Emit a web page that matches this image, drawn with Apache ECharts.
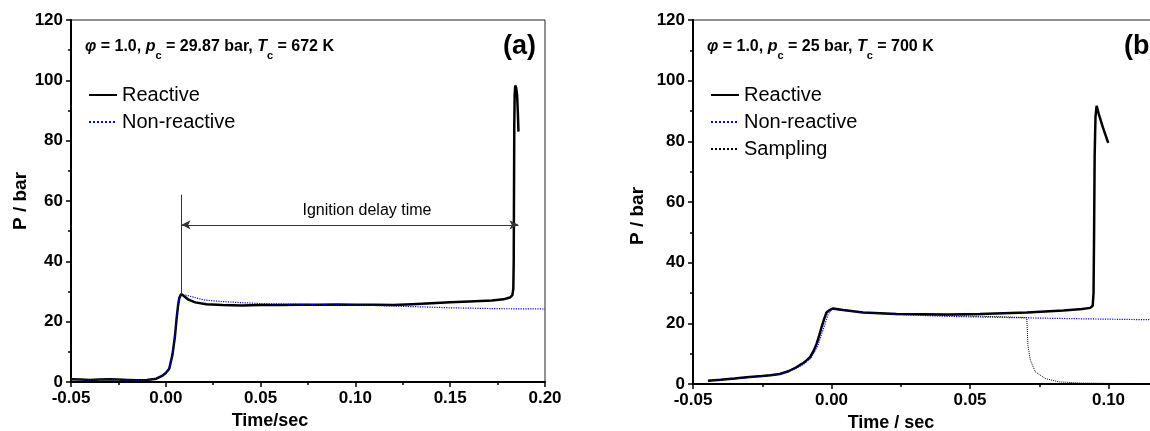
<!DOCTYPE html>
<html>
<head>
<meta charset="utf-8">
<script src="https://cdn.jsdelivr.net/npm/echarts@6/dist/echarts.min.js"></script>
<style>
  html, body { margin: 0; padding: 0; background: #fff; }
  #chart { width: 1150px; height: 431px; }
</style>
</head>
<body>
<div id="chart"></div>
<script>
// panel (a): phi = 1.0, pc = 29.87 bar, Tc = 672 K
var timeA = [-0.05, -0.045, -0.04, -0.035, -0.03, -0.025, -0.02, -0.015, -0.01, -0.005, -0.002, 0.0, 0.0018, 0.0035, 0.0048, 0.0058, 0.0065, 0.0071, 0.0081, 0.0095, 0.012, 0.0155, 0.0214, 0.03, 0.04, 0.05, 0.06, 0.07, 0.08, 0.09, 0.1, 0.11, 0.12, 0.13, 0.14, 0.15, 0.16, 0.172, 0.178, 0.1815, 0.1828, 0.1833, 0.1835, 0.1836, 0.1837, 0.1838, 0.184, 0.1843, 0.1848, 0.1853, 0.1857, 0.186]
var reactiveA = [0.9, 0.8, 0.7, 0.8, 0.9, 0.8, 0.7, 0.6, 0.7, 1.1, 2.0, 3.0, 4.4, 9.0, 15.0, 21.7, 25.5, 27.8, 29.2, 28.5, 27.3, 26.4, 25.8, 25.5, 25.4, 25.5, 25.5, 25.6, 25.6, 25.7, 25.6, 25.6, 25.5, 25.8, 26.1, 26.4, 26.7, 27.0, 27.4, 28.0, 28.8, 31.0, 40.0, 55.0, 70.0, 85.0, 95.0, 98.3, 97.5, 95.0, 89.0, 83.0]
var timeANon = [-0.05, -0.045, -0.04, -0.035, -0.03, -0.025, -0.02, -0.015, -0.01, -0.005, -0.002, 0.0, 0.0018, 0.0035, 0.0048, 0.0058, 0.0065, 0.0071, 0.0081, 0.0136, 0.02, 0.029, 0.04, 0.05, 0.075, 0.1075, 0.13, 0.15, 0.175, 0.2]
var nonReactiveA = [0.9, 0.8, 0.7, 0.8, 0.9, 0.8, 0.7, 0.6, 0.7, 1.1, 2.0, 3.0, 4.4, 9.0, 15.0, 21.7, 25.5, 27.8, 29.2, 28.3, 27.2, 26.7, 26.3, 26.0, 25.7, 25.4, 25.0, 24.6, 24.3, 24.2]

// ignition delay annotation (data units)
var ignStart = 0.0083
var ignEnd = 0.186
var ignArrowP = 52.1
var ignLineLow = 29.2
var ignLineHigh = 62.1

// panel (b): phi = 1.0, pc = 25 bar, Tc = 700 K
var timeB = [-0.0446, -0.04, -0.035, -0.0307, -0.025, -0.022, -0.0187, -0.0155, -0.0127, -0.0115, -0.01, -0.009, -0.0078, -0.0065, -0.0054, -0.0045, -0.0036, -0.0027, -0.0018, -0.001, -0.0004, 0.0006, 0.0042, 0.0114, 0.0235, 0.0416, 0.0536, 0.0705, 0.0837, 0.0905, 0.0934, 0.0943, 0.0946, 0.0948, 0.095, 0.0953, 0.0957, 0.0965, 0.098, 0.0999]
var reactiveB = [1.1, 1.4, 1.8, 2.2, 2.6, 2.9, 3.3, 4.2, 5.5, 6.2, 7.0, 7.8, 8.8, 10.8, 13.2, 15.8, 18.7, 21.3, 23.6, 24.2, 24.7, 24.9, 24.4, 23.6, 23.1, 22.9, 23.1, 23.6, 24.2, 24.7, 25.1, 25.8, 30.0, 50.0, 75.0, 88.0, 91.7, 89.0, 84.5, 79.5]
var timeBNon = [-0.0446, -0.035, -0.025, -0.0187, -0.0127, -0.01, -0.0075, -0.005, -0.003, -0.0012, 0.0, 0.0042, 0.0114, 0.0235, 0.0416, 0.0705, 0.09, 0.1139, 0.15]
var nonReactiveB = [1.1, 1.7, 2.6, 3.2, 5.2, 6.6, 8.5, 12.5, 18.0, 23.0, 24.6, 24.3, 23.5, 22.9, 22.3, 21.8, 21.5, 21.2, 20.9]
var timeBSamp = [-0.0446, -0.035, -0.025, -0.0187, -0.0127, -0.0078, -0.0054, -0.0036, -0.0018, -0.0004, 0.0042, 0.0114, 0.0235, 0.0416, 0.0602, 0.0705, 0.0707, 0.0709, 0.0718, 0.0736, 0.0772, 0.082, 0.09, 0.1, 0.115, 0.15]
var samplingB = [1.1, 1.8, 2.7, 3.3, 5.5, 8.8, 13.2, 18.7, 23.6, 24.7, 24.4, 23.6, 23.1, 22.6, 22.2, 21.9, 17.5, 12.8, 7.8, 4.0, 1.8, 0.7, 0.3, 0.2, 0.15, 0.15]

var FONT = "'Liberation Sans', Arial, sans-serif"
var BLUE = '#0000ff'

function pairs(xs, ys) {
    var out = []
    for (var i = 0; i < xs.length; i++) out.push([xs[i], ys[i]])
    return out
}

function xAxisFor(grid, max, name, namePad) {
    return {
        type: 'value', gridIndex: grid, min: -0.05, max: max, interval: 0.05,
        name: name, nameLocation: 'middle', nameGap: 29,
        nameTextStyle: {fontFamily: FONT, fontSize: 18, fontWeight: 'bold', color: '#000', padding: namePad},
        axisLine: {show: true, onZero: false, lineStyle: {color: '#000', width: 2}},
        axisTick: {show: true, length: 5, lineStyle: {color: '#000', width: 1.5}},
        minorTick: {show: true, splitNumber: 2, length: 3, lineStyle: {color: '#000', width: 1.5}},
        axisLabel: {fontFamily: FONT, fontSize: 17, fontWeight: 'bold', color: '#000', margin: 8,
            formatter: function (v) { return v.toFixed(2) }},
        splitLine: {show: false}
    }
}

function yAxisFor(grid, gap, namePad) {
    return {
        type: 'value', gridIndex: grid, min: 0, max: 120, interval: 20,
        name: 'P / bar', nameLocation: 'middle', nameGap: gap,
        nameTextStyle: {fontFamily: FONT, fontSize: 19, fontWeight: 'bold', color: '#000', padding: namePad},
        axisLine: {show: true, onZero: false, lineStyle: {color: '#000', width: 2}},
        axisTick: {show: true, length: 5, lineStyle: {color: '#000', width: 1.5}},
        minorTick: {show: true, splitNumber: 2, length: 3, lineStyle: {color: '#000', width: 1.5}},
        axisLabel: {fontFamily: FONT, fontSize: 17, fontWeight: 'bold', color: '#000', margin: 8},
        splitLine: {show: false}
    }
}

function condTitle(left, str) {
    return {
        left: left, top: 28, text: str,
        textStyle: {
            fontFamily: FONT, fontSize: 16, fontWeight: 'bold', color: '#000',
            rich: {
                n: {fontFamily: FONT, fontSize: 16, fontWeight: 'bold', color: '#000'},
                i: {fontFamily: FONT, fontSize: 16, fontWeight: 'bold', fontStyle: 'italic', color: '#000'},
                s: {fontFamily: FONT, fontSize: 11, fontWeight: 'bold', color: '#000', lineHeight: 28, verticalAlign: 'bottom'}
            }
        }
    }
}

var legendText = {fontFamily: FONT, fontSize: 20, color: '#000'}

var myChart = echarts.init(document.getElementById('chart'), null, {renderer: 'canvas'})

var option = {
    animation: false,
    backgroundColor: '#fff',
    title: [
        condTitle(80, '{i|φ}{n| = 1.0, }{i|p}{s|c}{n| = 29.87 bar, }{i|T}{s|c}{n| = 672 K}'),
        condTitle(702, '{i|φ}{n| = 1.0, }{i|p}{s|c}{n| = 25 bar, }{i|T}{s|c}{n| = 700 K}'),
        {left: 498, top: 28, text: '(a)', textStyle: {fontFamily: FONT, fontSize: 27, fontWeight: 'bold', color: '#000'}},
        {left: 1119, top: 28, text: '(b)', textStyle: {fontFamily: FONT, fontSize: 27, fontWeight: 'bold', color: '#000'}}
    ],
    legend: [
        {left: 83, top: 80, orient: 'vertical', itemWidth: 28, itemHeight: 20, itemGap: 7,
            itemStyle: {opacity: 0}, textStyle: legendText, selectedMode: false, data: ['Reactive', 'Non-reactive']},
        {left: 705, top: 80, orient: 'vertical', itemWidth: 28, itemHeight: 20, itemGap: 7,
            itemStyle: {opacity: 0}, textStyle: legendText, selectedMode: false, data: ['Reactive', 'Non-reactive', 'Sampling']}
    ],
    grid: [
        {left: 71, top: 20, width: 474, height: 362, show: true, borderColor: '#222', borderWidth: 1, outerBoundsMode: 'none'},
        {left: 693, top: 20, width: 554, height: 364, show: true, borderColor: '#222', borderWidth: 1, outerBoundsMode: 'none'}
    ],
    xAxis: [
        xAxisFor(0, 0.2, 'Time/sec', [0, 76, 0, 0]),
        xAxisFor(1, 0.15, 'Time / sec', [0, 158, 0, 0])
    ],
    yAxis: [
        yAxisFor(0, 38, [0, 0, 0, 0]),
        yAxisFor(1, 46, [0, 28, 0, 0])
    ],
    series: [
        {
            name: 'Reactive', type: 'line', xAxisIndex: 0, yAxisIndex: 0,
            data: pairs(timeA, reactiveA), symbol: 'none', smooth: false,
            lineStyle: {color: '#000', width: 2.5}, itemStyle: {color: '#000'},
            markLine: {
                silent: true, animation: false,
                symbol: ['arrow', 'arrow'], symbolSize: [7, 9],
                lineStyle: {color: '#333', width: 1, type: 'solid'},
                label: {show: false},
                data: [
                    [
                        {coord: [ignStart, ignArrowP], label: {show: true, position: 'insideMiddleTop', distance: 6,
                            formatter: 'Ignition delay time', fontFamily: FONT, fontSize: 16, color: '#000', padding: [0, 0, 0, 34]}},
                        {coord: [ignEnd, ignArrowP]}
                    ],
                    [
                        {coord: [ignStart, ignLineLow], symbol: 'none'},
                        {coord: [ignStart, ignLineHigh], symbol: 'none'}
                    ]
                ]
            }
        },
        {
            name: 'Non-reactive', type: 'line', xAxisIndex: 0, yAxisIndex: 0,
            data: pairs(timeANon, nonReactiveA), symbol: 'none',
            lineStyle: {color: BLUE, width: 1.2, type: 'dotted'}, itemStyle: {color: BLUE}
        },
        {
            name: 'Reactive', type: 'line', xAxisIndex: 1, yAxisIndex: 1,
            data: pairs(timeB, reactiveB), symbol: 'none',
            lineStyle: {color: '#000', width: 2.5}, itemStyle: {color: '#000'}
        },
        {
            name: 'Non-reactive', type: 'line', xAxisIndex: 1, yAxisIndex: 1,
            data: pairs(timeBNon, nonReactiveB), symbol: 'none',
            lineStyle: {color: BLUE, width: 1.2, type: 'dotted'}, itemStyle: {color: BLUE}
        },
        {
            name: 'Sampling', type: 'line', xAxisIndex: 1, yAxisIndex: 1,
            data: pairs(timeBSamp, samplingB), symbol: 'none',
            lineStyle: {color: '#000', width: 1, type: 'dotted'}, itemStyle: {color: '#000'}
        }
    ]
}
myChart.setOption(option)
</script>
</body>
</html>
